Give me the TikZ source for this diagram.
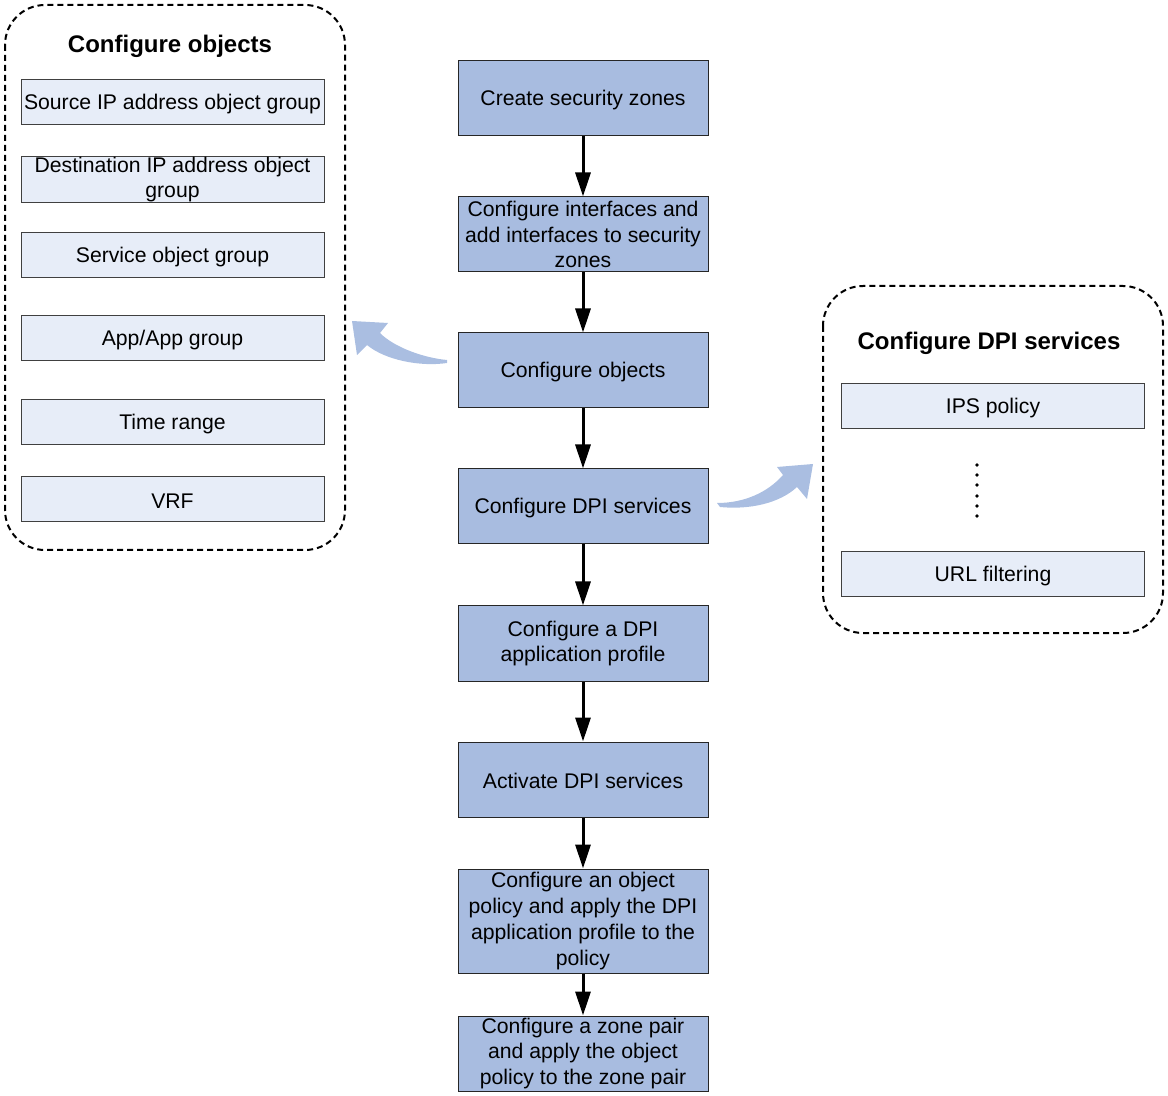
\documentclass[tikz,border=0pt]{standalone}
\usepackage{fontspec}
\setmainfont{Liberation Sans}
\usetikzlibrary{arrows.meta}
\definecolor{stepblue}{RGB}{168,188,224}
\definecolor{itemblue}{RGB}{231,237,248}
\definecolor{bendblue}{RGB}{170,190,225}

\begin{document}
\begin{tikzpicture}[x=0.5pt,y=-0.5pt,>={Triangle[length=12pt,width=7.5pt]},
                     stepbox/.style={draw=black!85,fill=stepblue,line width=0.5pt,
                       minimum width=125pt,minimum height=37.5pt,inner sep=0pt,
                       align=center,font=\fontsize{10.6}{12.85}\selectfont,
                       execute at begin node={\rule{0pt}{9.4pt}}},
                     itembox/.style={draw=black!75,fill=itemblue,line width=0.5pt,
                       minimum width=151.5pt,minimum height=22.5pt,inner sep=0pt,
                       align=center,font=\fontsize{10.6}{12.85}\selectfont,
                       execute at begin node={\rule{0pt}{9.4pt}}},
                     groupframe/.style={draw,line width=1pt,dash pattern=on 3pt off 2pt,
                       rounded corners=20pt},
                     grouptitle/.style={font=\fontsize{12}{14}\selectfont\bfseries}]
                     \useasboundingbox (0,0) rectangle (1168,1096);
                     % main flow
                     \node[stepbox] (zones) at (583,98.5) {Create security zones};
                     \node[stepbox,execute at begin node={}] (ifaces) at (583,234.5) {Configure interfaces and\\add interfaces to security\\zones};
                     \node[stepbox] (objects) at (583,370.5) {Configure objects};
                     \node[stepbox] (dpi) at (583,506.5) {Configure DPI services};
                     \node[stepbox] (profile) at (583,643.5) {Configure a DPI\\application profile};
                     \node[stepbox] (activate) at (583,779.5) {Activate DPI services};
                     \node[stepbox,minimum height=52pt] (policy) at (583,921) {Configure an object\\policy and apply the DPI\\application profile to the\\policy};
                     \node[stepbox] (zonepair) at (583,1053.5) {Configure a zone pair\\and apply the object\\policy to the zone pair};
                     \foreach \a/\b in {zones/ifaces,ifaces/objects,objects/dpi,dpi/profile,
                                        profile/activate,activate/policy,policy/zonepair}{
                       \draw[->,line width=1.5pt] (\a) -- (\b);
                     }
                     % objects group
                     \draw[groupframe] (5,5) rectangle (345,550);
                     \node[grouptitle] (objtitle) at (170,46) {Configure objects};
                     \node[itembox] (srcip) at (172.5,102.5) {Source IP address object group};
                     \node[itembox,execute at begin node={}] (dstip) at (172.5,179.5) {Destination IP address object\\group};
                     \node[itembox] (service) at (172.5,255.5) {Service object group};
                     \node[itembox] (app) at (172.5,338.5) {App/App group};
                     \node[itembox] (time) at (172.5,422.5) {Time range};
                     \node[itembox] (vrf) at (172.5,499.5) {VRF};
                     % DPI group
                     \draw[groupframe] (823,286) rectangle (1163,633);
                     \node[grouptitle] (dpititle) at (989,343) {Configure DPI services};
                     \node[itembox] (ips) at (993,406.5) {IPS policy};
                     \node[itembox] (url) at (993,574.5) {URL filtering};
                     \foreach \y in {465,475,485,496,506,516}{
                       \fill (977,\y) circle (1.9);
                     }
                     % bent arrows
                     \fill[bendblue] (447,360) .. controls (425,358) and (395,348) .. (380,333)
                       -- (388,323) -- (352,321) -- (357,355) -- (367,345)
                       .. controls (385,360) and (420,367) .. (447,363) -- cycle;
                     \fill[bendblue] (717,503) .. controls (745,503) and (768,492) .. (783,475)
                       -- (777,467) -- (813,464) -- (807,499) -- (797,487)
                       .. controls (780,503) and (750,510) .. (720,507) -- cycle;
                   \end{tikzpicture}
\end{document}
